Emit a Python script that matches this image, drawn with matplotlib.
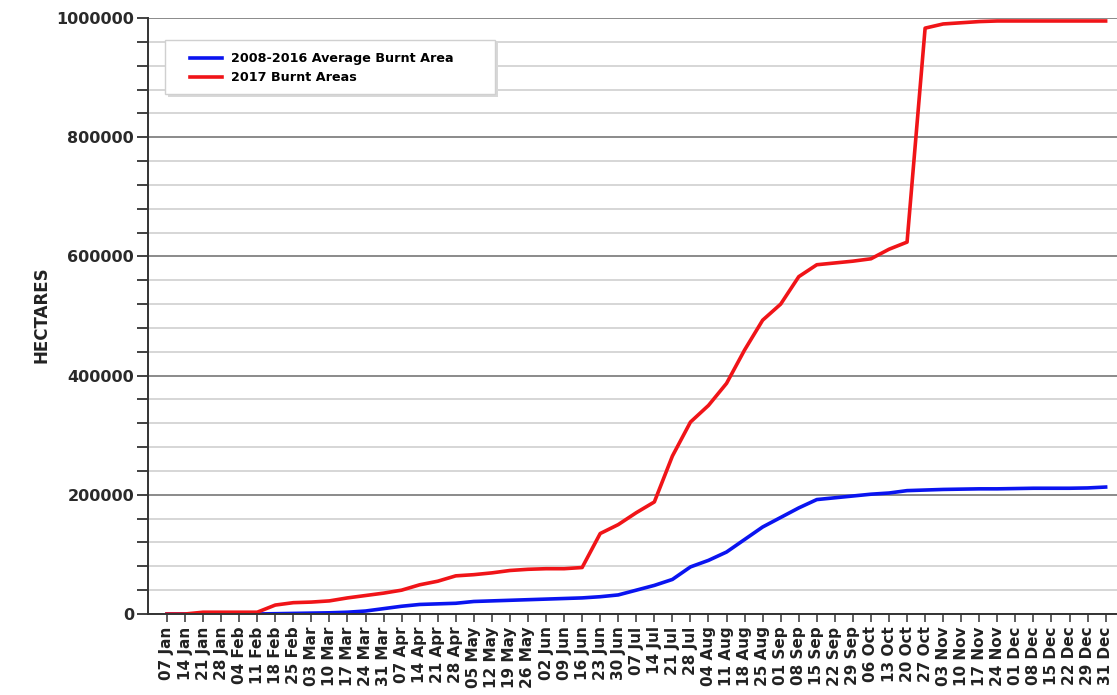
import matplotlib
matplotlib.use("Agg")
import matplotlib.pyplot as plt
from matplotlib.ticker import MultipleLocator, FixedLocator
from matplotlib.patches import Rectangle

week_labels = [
    "07 Jan", "14 Jan", "21 Jan", "28 Jan", "04 Feb", "11 Feb", "18 Feb", "25 Feb",
    "03 Mar", "10 Mar", "17 Mar", "24 Mar", "31 Mar", "07 Apr", "14 Apr", "21 Apr",
    "28 Apr", "05 May", "12 May", "19 May", "26 May", "02 Jun", "09 Jun", "16 Jun",
    "23 Jun", "30 Jun", "07 Jul", "14 Jul", "21 Jul", "28 Jul", "04 Aug", "11 Aug",
    "18 Aug", "25 Aug", "01 Sep", "08 Sep", "15 Sep", "22 Sep", "29 Sep", "06 Oct",
    "13 Oct", "20 Oct", "27 Oct", "03 Nov", "10 Nov", "17 Nov", "24 Nov", "01 Dec",
    "08 Dec", "15 Dec", "22 Dec", "29 Dec", "31 Dec",
]

avg_2008_2016 = [
    0, 0, 0, 0, 0, 0, 500, 1000, 1500, 2000, 3000, 5000, 9000, 13000, 16000, 17000,
    18000, 21000, 22000, 23000, 24000, 25000, 26000, 27000, 29000, 32000, 40000, 48000,
    58000, 79000, 90000, 104000, 125000, 146000, 162000, 178000, 192000, 195000, 198000,
    201000, 203000, 207000, 208000, 209000, 209500, 210000, 210000, 210500, 211000,
    211000, 211000, 211500, 213000,
]

burnt_2017 = [
    0, 0, 3000, 3000, 3000, 3000, 15000, 19000, 20000, 22000, 27000, 31000, 35000,
    40000, 49000, 55000, 64000, 66000, 69000, 73000, 75000, 76000, 76000, 78000,
    135000, 150000, 170000, 188000, 265000, 322000, 350000, 387000, 443000, 493000,
    520000, 566000, 586000, 589000, 592000, 596000, 612000, 624000, 983000, 990000,
    992000, 994000, 995000, 995000, 995000, 995000, 995000, 995000, 995000,
]

series_names = ["2008-2016 Average Burnt Area", "2017 Burnt Areas"]
y_major = [0, 200000, 400000, 600000, 800000, 1000000]

W, H = 1117, 695
fig = plt.figure(figsize=(W / 100, H / 100), dpi=100)
ax = fig.add_axes([148 / W, 1 - 614 / H, (1117 - 148) / W, (614 - 18) / H])

x = list(range(len(week_labels)))
l1, = ax.plot(x, avg_2008_2016, color="#0a14f0", lw=2.6, solid_joinstyle="round")
l2, = ax.plot(x, burnt_2017, color="#f01418", lw=2.6, solid_joinstyle="round")

ax.set_xlim(-1.05, 52.63)
ax.set_ylim(0, 1000000)

ax.yaxis.set_major_locator(FixedLocator(y_major))
ax.yaxis.set_minor_locator(MultipleLocator(40000))
ax.grid(True, which="major", axis="y", color="#8a8a8a", lw=1.4)
ax.grid(True, which="minor", axis="y", color="#cfcfcf", lw=1.2)
ax.set_axisbelow(True)

ax.set_xticks(x)
ax.set_xticklabels(week_labels, rotation=90, fontsize=11, fontweight="bold", color="#222222")
ax.set_yticklabels([str(v) for v in y_major], fontsize=11.5, fontweight="bold", color="#2a2a2a")
ax.tick_params(axis="y", which="both", length=8, width=1.3, color="#333333", pad=2)
ax.tick_params(axis="x", which="major", length=6, width=1.1, color="#333333", pad=3)

for s in ["top", "right"]:
    ax.spines[s].set_visible(False)
ax.spines["left"].set_color("#333333")
ax.spines["left"].set_linewidth(1.4)
ax.spines["bottom"].set_color("#333333")
ax.spines["bottom"].set_linewidth(1.4)

fig.text(42 / W, 1 - 315 / H, "HECTARES", rotation=90, fontsize=12, fontweight="bold",
         color="#222222", ha="center", va="center")

# legend box
fig.patches.append(Rectangle((168 / W, 1 - 97 / H), 330 / W, 54 / H, transform=fig.transFigure,
                             facecolor="#d8d8d8", edgecolor="none", zorder=1))
fig.patches.append(Rectangle((165 / W, 1 - 94 / H), 330 / W, 54 / H, transform=fig.transFigure,
                             facecolor="white", edgecolor="#d0d0d0", lw=1, zorder=2))
leg = fig.legend([l1, l2], series_names, loc="upper left",
                 bbox_to_anchor=(184 / W, 1 - 46 / H), bbox_transform=fig.transFigure,
                 frameon=False, borderpad=0, handlelength=2.5, handletextpad=0.7,
                 labelspacing=0.45, prop={"weight": "bold", "size": 9.2})
leg.set_zorder(5)

fig.savefig("out.png", dpi=100)
